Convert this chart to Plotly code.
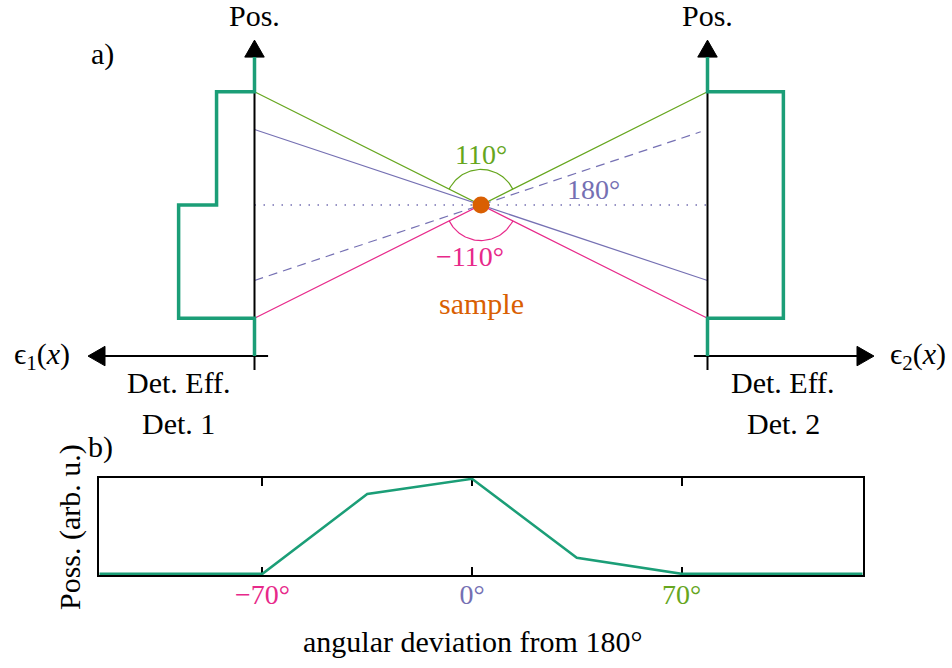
import numpy as np
import plotly.graph_objects as go

# ---------------- colours ----------------
TEAL = "#1b9e77"
LIME = "#66a61e"
PINK = "#e7298a"
PURPLE = "#7570b3"
ORANGE = "#d95f02"
FONT = "Liberation Serif"

# ---------------- part a) schematic (unit = sample–detector distance) -------
det_x = [-1.0, 1.0]                 # detector 1 / detector 2 positions, sample at 0
eff1_edges = [0.5, 0.0, -0.5]       # position bin edges of detector 1
eff1_vals = [0.5, 1.0]              # efficiency in each bin of detector 1
eff2_edges = [0.5, -0.5]
eff2_vals = [1.0]
eff_scale = 0.335                   # drawing length of efficiency 1.0
pos_axis = [-0.728, 0.728]          # extent of the position axes
eff_axis_y = -0.667                 # height of efficiency axes
eff_axis_extent = [0.06, 0.735]     # inner overhang / outer length
arrow_len, arrow_half = 0.075, 0.043

# rays from the sample
ray_names = ["110", "180", "180 mirrored", "-110"]
ray_colors = [LIME, PURPLE, PURPLE, PINK]
ray_left = [0.5, 1 / 3, -1 / 3, -0.5]
ray_right = [0.5, -1 / 3, 0.97 / 3, -0.5]
ray_right_x = [1.0, 1.0, 0.97, 1.0]
ray_dash = ["solid", "solid", "9px,6px", "solid"]
arc_radius = 0.157

# ---------------- part b) data ----------------
dev_deg = [-124.5, -70, -35, 0, 35, 70, 130.5]
poss = [0.0, 0.0, 0.84, 1.0, 0.17, 0.0, 0.0]
tick_vals = [-70, 0, 70]
tick_text = ["−70°", "0°", "70°"]
tick_colors = [PINK, PURPLE, LIME]

fig = go.Figure()


def line(xs, ys, color, width, dash="solid", xaxis="x", yaxis="y"):
    fig.add_trace(go.Scatter(x=xs, y=ys, mode="lines", xaxis=xaxis, yaxis=yaxis,
                             line=dict(color=color, width=width, dash=dash),
                             hoverinfo="skip", showlegend=False))


def tri(tip_x, tip_y, direction):
    # filled arrow head: direction one of 'up', 'left', 'right'
    if direction == "up":
        xs = [tip_x, tip_x - arrow_half, tip_x + arrow_half, tip_x]
        ys = [tip_y, tip_y - arrow_len, tip_y - arrow_len, tip_y]
    elif direction == "left":
        xs = [tip_x, tip_x + arrow_len, tip_x + arrow_len, tip_x]
        ys = [tip_y, tip_y + arrow_half, tip_y - arrow_half, tip_y]
    else:
        xs = [tip_x, tip_x - arrow_len, tip_x - arrow_len, tip_x]
        ys = [tip_y, tip_y + arrow_half, tip_y - arrow_half, tip_y]
    fig.add_trace(go.Scatter(x=xs, y=ys, mode="lines", fill="toself", fillcolor="black",
                             line=dict(color="black", width=1), hoverinfo="skip",
                             showlegend=False))


# dotted reference line (180° direction)
line([det_x[0], det_x[1]], [0, 0], PURPLE, 1.3, dash="1.5px,7.5px")

# rays
for c, yl, yr, xr, d in zip(ray_colors, ray_left, ray_right, ray_right_x, ray_dash):
    line([det_x[0], 0, xr], [yl, 0, yr], c, 1.2, dash=d)

# position axes (black), efficiency axes
for dx, side in zip(det_x, [-1, 1]):
    line([dx, dx], [pos_axis[0], pos_axis[1] - arrow_len], "black", 2)
    tri(dx, pos_axis[1], "up")
    inner = dx - side * eff_axis_extent[0]
    outer = dx + side * eff_axis_extent[1]
    line([inner, outer - side * arrow_len], [eff_axis_y, eff_axis_y], "black", 2)
    tri(outer, eff_axis_y, "left" if side < 0 else "right")


# efficiency step curves
def eff_curve(dx, side, edges, vals):
    xs = [dx, dx]
    ys = [pos_axis[1] - arrow_len, edges[0]]
    for i, v in enumerate(vals):
        ex = dx + side * v * eff_scale
        xs += [ex, ex]
        ys += [edges[i], edges[i + 1]]
    xs += [dx, dx]
    ys += [edges[-1], eff_axis_y]
    line(xs, ys, TEAL, 3.5)


eff_curve(det_x[0], -1, eff1_edges, eff1_vals)
eff_curve(det_x[1], 1, eff2_edges, eff2_vals)

# angle arcs
a_green = np.degrees(np.arctan2(ray_left[0], 1.0))
th = np.radians(np.linspace(a_green, 180 - a_green, 60))
line(arc_radius * np.cos(th), arc_radius * np.sin(th), LIME, 1.2)
th = np.radians(np.linspace(-180 + a_green, -a_green, 60))
line(arc_radius * np.cos(th), arc_radius * np.sin(th), PINK, 1.2)

# sample
fig.add_trace(go.Scatter(x=[0], y=[0], mode="markers", marker=dict(color=ORANGE, size=17),
                         hoverinfo="skip", showlegend=False))

# ---------------- part b) curve ----------------
fig.add_trace(go.Scatter(x=dev_deg, y=poss, mode="lines", xaxis="x2", yaxis="y2",
                         line=dict(color=TEAL, width=2.5), hoverinfo="skip",
                         showlegend=False))

# ---------------- annotations ----------------
ann = []


def txt(x, y, s, size=30, color="black", xref="x", yref="y", angle=0):
    ann.append(dict(x=x, y=y, xref=xref, yref=yref, text=s, showarrow=False,
                    xanchor="center", yanchor="middle", textangle=angle,
                    font=dict(family=FONT, size=size, color=color)))


txt(-1.0, 0.835, "Pos.")
txt(1.0, 0.835, "Pos.")
txt(-1.673, 0.665, "a)")
txt(-1.938, eff_axis_y, "ϵ<sub>1</sub>(<i>x</i>)")
txt(1.929, eff_axis_y, "ϵ<sub>2</sub>(<i>x</i>)")
txt(-1 - eff_scale, -0.785, "Det. Eff.")
txt(1 + eff_scale, -0.785, "Det. Eff.")
txt(-1 - eff_scale, -0.965, "Det. 1")
txt(1 + eff_scale, -0.965, "Det. 2")
txt(0.0, 0.225, "110°", size=28, color=LIME)
txt(0.495, 0.068, "180°", size=28, color=PURPLE)
txt(-0.049, -0.228, "−110°", size=28, color=PINK)
txt(0.0, -0.435, "sample", size=30, color=ORANGE)
txt(-1.678, -1.07, "b)")
txt(472 / 952, 1 - 641 / 668, "angular deviation from 180°", xref="paper", yref="paper")
txt(70 / 952, 1 - 527 / 668, "Poss. (arb. u.)", xref="paper", yref="paper", angle=-90)

ticktext = [f'<span style="color:{c}">{t}</span>' for t, c in zip(tick_text, tick_colors)]

fig.update_layout(
    width=952, height=668, margin=dict(l=0, r=0, t=0, b=0),
    paper_bgcolor="white", plot_bgcolor="rgba(0,0,0,0)",
    showlegend=False, annotations=ann,
    font=dict(family=FONT, size=28, color="black"),
    xaxis=dict(domain=[0, 1], range=[-481 / 226.5, 471 / 226.5], visible=False, fixedrange=True),
    yaxis=dict(domain=[0, 1], range=[-463 / 226.5, 205 / 226.5], visible=False, fixedrange=True),
    xaxis2=dict(domain=[99.3 / 952, 862.7 / 952], anchor="y2", range=[-124.5, 130.5],
                tickvals=tick_vals, ticktext=ticktext, ticks="inside", ticklen=8,
                tickwidth=1.5, tickcolor="black", showline=True, mirror="ticks",
                linecolor="black", linewidth=2, showgrid=False, zeroline=False,
                layer="below traces", tickfont=dict(family=FONT, size=28),
                ticklabelstandoff=-7),
    yaxis2=dict(domain=[(668 - 575) / 668, (668 - 477.7) / 668], anchor="x2",
                range=[-0.012, 1.012], showticklabels=False, ticks="", showline=True,
                mirror=True, linecolor="black", linewidth=2, showgrid=False,
                zeroline=False, layer="below traces"),
)

fig.write_html("out.html")
